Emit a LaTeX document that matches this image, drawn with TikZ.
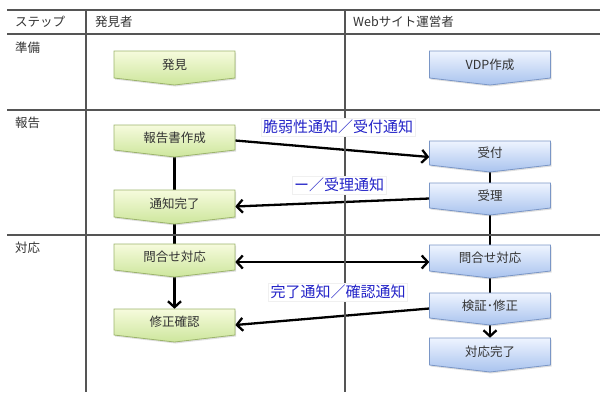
\documentclass[tikz,border=0pt]{standalone}
\usepackage{fontspec}
\setmainfont{Noto Sans CJK JP}
\usetikzlibrary{arrows.meta,calc,backgrounds,shadows}
\definecolor{gridc}{HTML}{555555}
\definecolor{txt}{HTML}{333333}
\definecolor{lbl}{HTML}{2424C8}
\definecolor{gtop}{HTML}{F6FBDD}
\definecolor{gbot}{HTML}{CDE69C}
\definecolor{gbrd}{HTML}{9CB46C}
\definecolor{btop}{HTML}{EEF4FF}
\definecolor{bbot}{HTML}{A9C3EE}
\definecolor{bbrd}{HTML}{7A96C6}
\tikzset{
  grid/.style={draw=gridc,line width=1.3pt},
  head/.style={anchor=west,text=txt,font=\fontsize{12.5}{14}\selectfont,inner sep=0pt},
  boxtext/.style={text=txt,font=\fontsize{12.5}{14}\selectfont,inner sep=0pt,minimum width=121pt},
  gshape/.style={draw=gbrd,line width=0.8pt,top color=gtop,bottom color=gbot,
    drop shadow={opacity=0.25,shadow xshift=1pt,shadow yshift=-1.5pt}},
  bshape/.style={draw=bbrd,line width=0.8pt,top color=btop,bottom color=bbot,
    drop shadow={opacity=0.25,shadow xshift=1pt,shadow yshift=-1.5pt}},
  conn/.style={draw=black,line width=2.3pt},
  arr/.style={conn,-{Straight Barb[length=6pt,width=13pt,line width=2.3pt]}},
  darr/.style={conn,{Straight Barb[length=6pt,width=13pt,line width=2.3pt]}-{Straight Barb[length=6pt,width=13pt,line width=2.3pt]}},
  msg/.style={fill=white,draw=gray!12,text=lbl,font=\fontsize{15}{17}\selectfont,inner sep=2pt}
}
\newcommand\chv[6]{%
  \path[#6] (#2-60.5,#3-#4/2) -- (#2+60.5,#3-#4/2) -- (#2+60.5,#3+#4/2)
     -- (#2,#3+#4/2+7) -- (#2-60.5,#3+#4/2) -- cycle;
  \node[boxtext,minimum height=#4pt] (#1) at (#2,#3) {#5};}
\begin{document}
\begin{tikzpicture}[x=1pt,y=-1pt]
\useasboundingbox (0,0) rectangle (600,392);
% table
\draw[grid] (7,10) -- (600,10);
\draw[grid] (7,34) -- (600,34);
\draw[grid] (7,110) -- (600,110);
\draw[grid] (7,235) -- (600,235);
\draw[grid] (86,10) -- (86,392);
\draw[grid] (345,10) -- (345,392);
\node[head] (hstep) at (15,22) {ステップ};
\node[head] (hfind) at (95,22) {発見者};
\node[head] (hweb) at (353,22) {Webサイト運営者};
\node[head] (rprep) at (15,48) {準備};
\node[head] (rrep) at (15,123) {報告};
\node[head] (rresp) at (15,248) {対応};
% boxes
\chv{find}{174.5}{64.5}{27}{発見}{gshape}
\chv{rep}{174.5}{137.5}{25}{報告書作成}{gshape}
\chv{done}{174.5}{203.5}{27}{通知完了}{gshape}
\chv{qL}{174.5}{257}{26}{問合せ対応}{gshape}
\chv{chk}{174.5}{322}{26}{修正確認}{gshape}
\chv{vdp}{490}{64.5}{27}{VDP作成}{bshape}
\chv{acc}{490}{153}{24}{受付}{bshape}
\chv{rcv}{490}{195.5}{25}{受理}{bshape}
\chv{qR}{490}{258}{26}{問合せ対応}{bshape}
\chv{fix}{490}{305.5}{25}{検証･修正}{bshape}
\chv{fin}{490}{351.5}{27}{対応完了}{bshape}
% labels
\node[msg] (m1) at (338,127) {脆弱性通知／受付通知};
\node[msg] (m2) at (339,185) {ー／受理通知};
\node[msg] (m3) at (338,292) {完了通知／確認通知};
% connectors
\begin{pgfonlayer}{background}
\draw[conn] (rep.south) -- (done.north);
\draw[conn] (done.south) -- (qL.north);
\draw[arr] ($(qL.south)+(0,7)$) -- (chk.north);
\draw[conn] (acc.south) -- (rcv.north);
\draw[conn] (rcv.south) -- (qR.north);
\draw[conn] (qR.south) -- (fix.north);
\draw[arr] ($(fix.south)+(0,7)$) -- (fin.north);
\draw[arr] ($(rep.east)+(0,3)$) -- ($(acc.west)+(0,4)$);
\draw[arr] ($(rcv.west)+(0,3)$) -- ($(done.east)+(0,3)$);
\draw[darr] ($(qL.east)+(0,5)$) -- ($(qR.west)+(0,4)$);
\draw[arr] ($(fix.west)+(0,3)$) -- ($(chk.east)+(0,3)$);
\end{pgfonlayer}
\end{tikzpicture}
\end{document}
